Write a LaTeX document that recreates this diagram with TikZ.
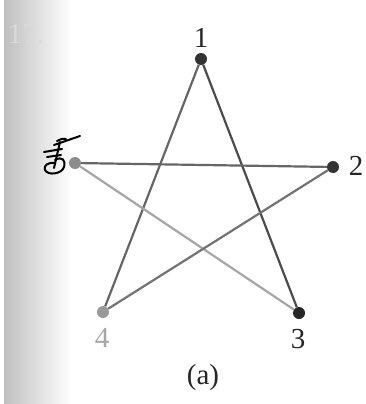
\documentclass[tikz,border=0pt]{standalone}
\usepackage{fontspec}
\setmainfont{Liberation Serif}
\begin{document}
\begin{tikzpicture}[x=1pt,y=-1pt,
  vdot/.style={circle,inner sep=0pt,minimum size=12pt},
  edge/.style={line width=2.2pt},
  lbl/.style={font=\fontsize{29}{29}\selectfont,inner sep=0pt}]
\useasboundingbox (0,0) rectangle (366,404);
\fill[white] (0,0) rectangle (366,404);
\shade[left color=black!25,right color=white] (4,0) rectangle (72,404);
\fill[white] (0,0) rectangle (4,404);
\node[lbl,text=black!15] (hdr) at (26,34) {17.};
% vertices
\node[vdot,fill=black!80] (v1) at (201,59) {};
\node[vdot,fill=black!80] (v2) at (333,167) {};
\node[vdot,fill=black!85] (v3) at (299,313) {};
\node[vdot,fill=black!40] (v4) at (103,312) {};
\node[vdot,fill=black!45] (v5) at (75,163) {};
% edges
\draw[edge,black!70] (v1) -- (v3);
\draw[edge,black!60] (v1) -- (v4);
\draw[edge,black!60] (v5) -- (v2);
\draw[edge,black!35] (v5) -- (v3);
\draw[edge,black!55] (v4) -- (v2);
% labels
\node[lbl,text=black!85] (l1) at (201,38) {1};
\node[lbl,text=black!85] (l2) at (356,166) {2};
\node[lbl,text=black!85] (l3) at (298,339) {3};
\node[lbl,text=black!35] (l4) at (102,338) {4};
\node[lbl,text=black!85] (la) at (203,378) {(a)};
% handwritten mark
\begin{scope}[line width=2pt,line cap=round,line join=round]
\draw (54,145) -- (80,136);
\draw (57,141) .. controls (61,139) and (64,138) .. (66,139);
\draw (44,152) -- (62,149);
\draw (47,157) -- (61,155);
\draw (60,142) -- (54,168);
\draw (55,160) .. controls (62,156) and (66,160) .. (64,167)
      .. controls (62,174) and (48,176) .. (45,170)
      .. controls (43,165) and (49,162) .. (55,163);
\end{scope}
\end{tikzpicture}
\end{document}
